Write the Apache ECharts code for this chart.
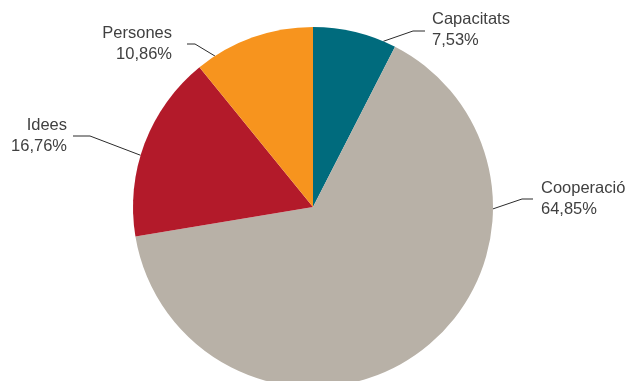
<!DOCTYPE html>
<html>
<head>
<meta charset="utf-8">
<script src="https://cdn.jsdelivr.net/npm/echarts@6/dist/echarts.min.js"></script>
<style>
  html, body { margin: 0; padding: 0; background: #fff; }
  #chart { width: 630px; height: 381px; }
</style>
</head>
<body>
<div id="chart"></div>
<script>
// data
var categories = ['Capacitats', 'Cooperació', 'Idees', 'Persones']
var shares = [7.53, 64.85, 16.76, 10.86]
var colors = ['#006b7d', '#b8b1a7', '#b31a2a', '#f7941e']

// pie geometry
var cx = 313
var cy = 207
var r = 180

// where each label sits (angle of line start, clockwise from top; bend; text anchor)
var labelSpots = [
  { angle: 23, bend: [413, 31], end: [425, 31], text: [432, 30], align: 'left' },
  { angle: 90.6, bend: [522, 199], end: [533, 199], text: [541, 199], align: 'left' },
  { angle: 286.7, bend: [90, 136], end: [73, 136], text: [67, 136], align: 'right' },
  { angle: 327, bend: [195, 44], end: [187, 44], text: [172, 44], align: 'right' }
]

function fmt(v) {
  return v.toFixed(2).replace('.', ',') + '%'
}

var chart = echarts.init(document.getElementById('chart'), null, { renderer: 'canvas' })

chart.setOption({
  animation: false,
  series: [
    {
      type: 'pie',
      center: [cx, cy],
      radius: r,
      startAngle: 90,
      clockwise: true,
      data: categories.map(function(name, i) {
        return { name: name, value: shares[i], itemStyle: { color: colors[i] } }
      }),
      label: {
        show: true,
        formatter: function(p) {
          return p.name + '\n' + fmt(shares[p.dataIndex])
        },
        fontFamily: 'Liberation Sans, Arial, sans-serif',
        fontSize: 16.5,
        lineHeight: 21,
        color: '#404040'
      },
      labelLine: {
        show: true,
        lineStyle: { color: '#2b2b2b', width: 1 }
      },
      labelLayout: function(params) {
        var s = labelSpots[params.dataIndex]
        var a = s.angle * Math.PI / 180
        var start = [cx + r * Math.sin(a), cy - r * Math.cos(a)]
        return {
          x: s.text[0],
          y: s.text[1],
          align: s.align,
          verticalAlign: 'middle',
          labelLinePoints: [start, s.bend, s.end]
        }
      },
      emphasis: { disabled: true }
    }
  ]
})
</script>
</body>
</html>
